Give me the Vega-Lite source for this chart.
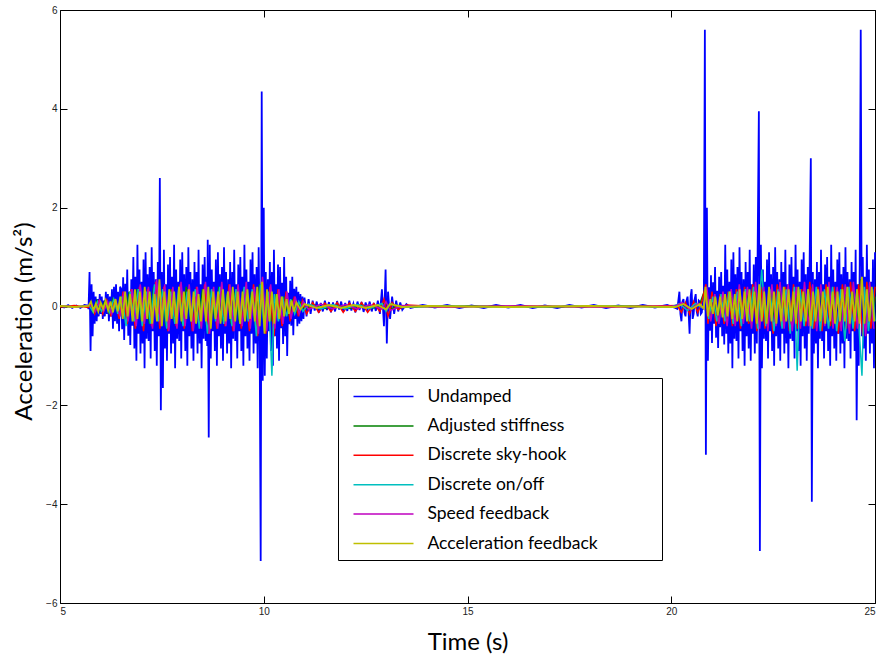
{
"$schema": "https://vega.github.io/schema/vega-lite/v6.json",
"width": 815, "height": 593,
"autosize": "none",
"padding": {"left": 60, "top": 10, "right": 2, "bottom": 54},
"background": "white",
"config": {
 "view": {"stroke": null},
 "axis": {"domainColor": "black", "tickColor": "black", "labelColor": "#222", "labelFont": "Liberation Sans", "labelFontSize": 10, "grid": false, "tickSize": -7, "domainWidth": 1, "tickWidth": 1, "titleFont": "Lato", "titleFontSize": 24, "titleFontWeight": "normal", "titleColor": "black"}
},
"datasets": {
"U": [
{"t":5.0,"a":0.02},{"t":5.1,"a":-0.02},{"t":5.2,"a":0.03},{"t":5.3,"a":-0.03},{"t":5.4,"a":0.02},{"t":5.5,"a":-0.03},{"t":5.6,"a":0.03},{"t":5.675,"a":0.02},
{"t":5.7,"a":-0.05},{"t":5.725,"a":0.7},{"t":5.75,"a":-0.9},{"t":5.775,"a":0.45},{"t":5.8,"a":-0.6},{"t":5.825,"a":0.3},{"t":5.85,"a":-0.35},{"t":5.875,"a":0.2},{"t":5.9,"a":-0.3},{"t":5.925,"a":0.15},{"t":5.95,"a":-0.2},{"t":5.975,"a":0.25},{"t":6.0,"a":-0.15},{"t":6.025,"a":0.2},{"t":6.05,"a":-0.25},{"t":6.075,"a":0.12},{"t":6.1,"a":-0.2},{"t":6.125,"a":0.3},{"t":6.15,"a":-0.15},{"t":6.175,"a":0.25},{"t":6.2,"a":-0.3},{"t":6.225,"a":0.2},{"t":6.25,"a":-0.2},{"t":6.275,"a":0.35},{"t":6.3,"a":-0.45},{"t":6.325,"a":0.4},{"t":6.35,"a":-0.3},{"t":6.375,"a":0.45},{"t":6.4,"a":-0.35},{"t":6.425,"a":0.3},{"t":6.45,"a":-0.5},{"t":6.475,"a":0.4},
{"t":6.5,"a":0.36},{"t":6.525,"a":-0.46},{"t":6.55,"a":0.59},{"t":6.575,"a":-0.68},{"t":6.6,"a":0.46},{"t":6.625,"a":-0.33},{"t":6.65,"a":0.75},{"t":6.675,"a":-0.59},{"t":6.7,"a":0.29},{"t":6.725,"a":-0.78},{"t":6.75,"a":0.55},{"t":6.775,"a":-0.39},{"t":6.8,"a":1.0},{"t":6.825,"a":-0.85},{"t":6.85,"a":0.6},{"t":6.875,"a":-1.1},{"t":6.9,"a":1.25},{"t":6.925,"a":-0.55},{"t":6.95,"a":0.75},{"t":6.975,"a":-0.95},{"t":7.0,"a":0.5},{"t":7.025,"a":-0.75},{"t":7.05,"a":0.95},{"t":7.075,"a":-1.25},{"t":7.1,"a":1.1},{"t":7.125,"a":-0.65},{"t":7.15,"a":0.65},{"t":7.175,"a":-0.7},{"t":7.2,"a":0.8},{"t":7.225,"a":-1.05},{"t":7.25,"a":1.2},{"t":7.275,"a":-0.5},{"t":7.3,"a":0.7},{"t":7.325,"a":-0.9},{"t":7.35,"a":0.55},{"t":7.375,"a":-1.2},{"t":7.4,"a":0.9},{"t":7.425,"a":-0.6},{"t":7.45,"a":2.6},{"t":7.475,"a":-2.1},{"t":7.5,"a":0.7},{"t":7.525,"a":-1.65},{"t":7.55,"a":1.15},{"t":7.575,"a":-0.85},{"t":7.6,"a":0.45},{"t":7.625,"a":-1.1},{"t":7.65,"a":0.85},{"t":7.675,"a":-0.55},{"t":7.7,"a":1.0},{"t":7.725,"a":-0.95},{"t":7.75,"a":0.6},{"t":7.775,"a":-0.75},{"t":7.8,"a":1.25},{"t":7.825,"a":-1.25},{"t":7.85,"a":0.75},{"t":7.875,"a":-0.65},{"t":7.9,"a":0.5},{"t":7.925,"a":-0.7},{"t":7.95,"a":0.95},{"t":7.975,"a":-1.05},{"t":8.0,"a":1.1},{"t":8.025,"a":-0.5},{"t":8.05,"a":0.65},{"t":8.075,"a":-0.9},{"t":8.1,"a":0.8},{"t":8.125,"a":-1.2},{"t":8.15,"a":1.2},{"t":8.175,"a":-0.6},{"t":8.2,"a":0.7},{"t":8.225,"a":-0.85},{"t":8.25,"a":0.55},{"t":8.275,"a":-1.1},{"t":8.3,"a":0.9},{"t":8.325,"a":-0.55},{"t":8.35,"a":0.7},{"t":8.375,"a":-0.95},{"t":8.4,"a":1.15},{"t":8.425,"a":-0.75},{"t":8.45,"a":0.45},{"t":8.475,"a":-1.25},{"t":8.5,"a":0.85},{"t":8.525,"a":-0.65},{"t":8.55,"a":1.0},{"t":8.575,"a":-0.7},{"t":8.6,"a":0.6},{"t":8.6125,"a":-0.8},{"t":8.625,"a":1.35},{"t":8.65,"a":-2.65},{"t":8.675,"a":1.25},{"t":8.7,"a":-1.05},{"t":8.725,"a":0.75},{"t":8.75,"a":-0.5},{"t":8.775,"a":0.5},{"t":8.8,"a":-0.9},{"t":8.825,"a":0.95},{"t":8.85,"a":-1.2},{"t":8.875,"a":1.1},{"t":8.9,"a":-0.6},{"t":8.925,"a":0.65},{"t":8.95,"a":-0.85},{"t":8.975,"a":0.8},{"t":9.0,"a":-1.1},{"t":9.025,"a":1.2},{"t":9.05,"a":-0.55},{"t":9.075,"a":0.7},{"t":9.1,"a":-0.95},{"t":9.125,"a":0.55},{"t":9.15,"a":-0.75},{"t":9.175,"a":0.9},{"t":9.2,"a":-1.25},{"t":9.225,"a":0.7},{"t":9.25,"a":-0.65},{"t":9.275,"a":1.15},{"t":9.3,"a":-0.7},{"t":9.325,"a":0.45},{"t":9.35,"a":-1.05},{"t":9.375,"a":0.85},{"t":9.4,"a":-0.5},{"t":9.425,"a":1.0},{"t":9.45,"a":-0.9},{"t":9.475,"a":0.6},{"t":9.5,"a":-1.2},{"t":9.525,"a":1.25},{"t":9.55,"a":-0.6},{"t":9.575,"a":0.75},{"t":9.6,"a":-0.85},{"t":9.625,"a":0.5},{"t":9.65,"a":-1.1},{"t":9.675,"a":0.95},{"t":9.7,"a":-0.55},{"t":9.725,"a":1.1},{"t":9.75,"a":-0.95},{"t":9.775,"a":0.65},{"t":9.8,"a":-0.75},{"t":9.825,"a":0.8},{"t":9.85,"a":-1.25},{"t":9.875,"a":1.2},{"t":9.9,"a":-0.65},{"t":9.925,"a":-5.15},{"t":9.95,"a":4.35},{"t":9.975,"a":-1.5},{"t":10.0,"a":2.0},{"t":10.025,"a":-1.4},{"t":10.05,"a":0.7},{"t":10.075,"a":-1.05},{"t":10.1,"a":0.55},{"t":10.125,"a":-0.5},{"t":10.15,"a":0.9},{"t":10.175,"a":-0.9},{"t":10.2,"a":0.7},{"t":10.225,"a":-1.2},{"t":10.25,"a":1.15},{"t":10.275,"a":-0.6},{"t":10.3,"a":0.45},{"t":10.325,"a":-0.85},{"t":10.35,"a":0.85},{"t":10.375,"a":-1.1},{"t":10.4,"a":0.8},{"t":10.425,"a":-0.44},{"t":10.45,"a":0.48},{"t":10.475,"a":-0.76},{"t":10.5,"a":1.0},{"t":10.525,"a":-0.6},{"t":10.55,"a":0.6},{"t":10.575,"a":-1.0},{"t":10.6,"a":0.28},{"t":10.625,"a":-0.36},{"t":10.65,"a":0.52},{"t":10.675,"a":-0.39},{"t":10.7,"a":0.6},{"t":10.725,"a":-0.58},{"t":10.75,"a":0.36},{"t":10.775,"a":-0.25},{"t":10.8,"a":0.4},{"t":10.825,"a":-0.4},{"t":10.85,"a":0.3},{"t":10.875,"a":-0.35},{"t":10.9,"a":0.25},{"t":10.925,"a":-0.3},{"t":10.95,"a":0.2},{"t":10.975,"a":-0.25},{"t":11.0,"a":0.18},{"t":11.05,"a":-0.2},{"t":11.1,"a":0.15},{"t":11.15,"a":-0.15},
{"t":11.2,"a":0.12},{"t":11.25,"a":-0.08},{"t":11.3,"a":0.1},{"t":11.35,"a":-0.13},{"t":11.4,"a":0.07},{"t":11.45,"a":-0.1},{"t":11.5,"a":0.12},{"t":11.55,"a":-0.07},{"t":11.6,"a":0.09},{"t":11.65,"a":-0.12},{"t":11.7,"a":0.08},{"t":11.75,"a":-0.1},{"t":11.8,"a":0.11},{"t":11.85,"a":-0.06},{"t":11.9,"a":0.1},{"t":11.95,"a":-0.11},{"t":12.0,"a":0.07},{"t":12.05,"a":-0.09},{"t":12.1,"a":0.12},{"t":12.15,"a":-0.08},{"t":12.2,"a":0.06},{"t":12.25,"a":-0.12},{"t":12.3,"a":0.1},{"t":12.35,"a":-0.07},{"t":12.4,"a":0.09},{"t":12.45,"a":-0.11},{"t":12.5,"a":0.08},{"t":12.55,"a":-0.06},{"t":12.6,"a":0.1},{"t":12.65,"a":-0.1},{"t":12.7,"a":0.07},{"t":12.75,"a":-0.09},{"t":12.8,"a":0.12},{"t":12.85,"a":-0.15},{"t":12.9,"a":0.35},{"t":12.95,"a":-0.4},{"t":12.99,"a":0.75},{"t":13.02,"a":-0.75},{"t":13.05,"a":0.3},{"t":13.1,"a":-0.25},{"t":13.15,"a":0.2},{"t":13.2,"a":-0.15},{"t":13.25,"a":0.12},{"t":13.3,"a":-0.1},{"t":13.35,"a":0.08},{"t":13.4,"a":-0.07},{"t":13.5,"a":0.05},
{"t":13.6,"a":-0.03},{"t":13.9,"a":0.03},{"t":14.2,"a":-0.02},{"t":14.5,"a":0.03},{"t":14.8,"a":-0.03},{"t":15.1,"a":0.02},{"t":15.4,"a":-0.03},{"t":15.7,"a":0.03},{"t":16.0,"a":-0.02},{"t":16.3,"a":0.03},{"t":16.6,"a":-0.03},{"t":16.9,"a":0.02},{"t":17.2,"a":-0.03},{"t":17.5,"a":0.03},{"t":17.8,"a":-0.02},{"t":18.1,"a":0.03},{"t":18.4,"a":-0.03},{"t":18.7,"a":0.02},{"t":19.0,"a":-0.03},{"t":19.3,"a":0.03},{"t":19.6,"a":-0.02},{"t":19.9,"a":0.03},{"t":20.1,"a":-0.03},
{"t":20.15,"a":-0.05},{"t":20.2,"a":0.3},{"t":20.225,"a":-0.15},{"t":20.25,"a":-0.3},{"t":20.275,"a":0.1},{"t":20.3,"a":0.15},{"t":20.325,"a":-0.12},{"t":20.35,"a":-0.2},{"t":20.375,"a":0.12},{"t":20.4,"a":0.2},{"t":20.425,"a":-0.1},{"t":20.45,"a":-0.55},{"t":20.475,"a":0.2},{"t":20.5,"a":0.35},{"t":20.525,"a":-0.25},{"t":20.55,"a":-0.15},{"t":20.575,"a":0.15},{"t":20.6,"a":0.25},{"t":20.625,"a":-0.1},{"t":20.65,"a":-0.2},{"t":20.675,"a":0.12},{"t":20.7,"a":0.1},{"t":20.725,"a":-0.15},{"t":20.75,"a":-0.12},{"t":20.775,"a":0.1},{"t":20.8,"a":0.15},
{"t":20.825,"a":5.6},{"t":20.85,"a":-3.0},{"t":20.875,"a":2.0},{"t":20.9,"a":-1.1},{"t":20.925,"a":0.39},{"t":20.95,"a":-0.49},{"t":20.975,"a":0.63},{"t":21.0,"a":-0.74},{"t":21.025,"a":0.49},{"t":21.05,"a":-0.35},{"t":21.075,"a":0.8},{"t":21.1,"a":-0.63},{"t":21.125,"a":0.32},{"t":21.15,"a":-0.84},{"t":21.175,"a":0.6},{"t":21.2,"a":-0.42},{"t":21.225,"a":0.7},{"t":21.25,"a":-0.6},{"t":21.275,"a":0.42},{"t":21.3,"a":-0.77},{"t":21.325,"a":1.25},{"t":21.35,"a":-0.55},{"t":21.375,"a":0.75},{"t":21.4,"a":-0.95},{"t":21.425,"a":0.5},{"t":21.45,"a":-0.75},{"t":21.475,"a":0.95},{"t":21.5,"a":-1.25},{"t":21.525,"a":1.1},{"t":21.55,"a":-0.65},{"t":21.575,"a":0.65},{"t":21.6,"a":-0.7},{"t":21.625,"a":0.8},{"t":21.65,"a":-1.05},{"t":21.675,"a":1.2},{"t":21.7,"a":-0.5},{"t":21.725,"a":0.7},{"t":21.75,"a":-0.9},{"t":21.775,"a":0.55},{"t":21.8,"a":-1.2},{"t":21.825,"a":0.9},{"t":21.85,"a":-0.6},{"t":21.875,"a":0.7},{"t":21.9,"a":-0.85},{"t":21.925,"a":1.15},{"t":21.95,"a":-1.1},{"t":21.975,"a":0.45},{"t":22.0,"a":-0.55},{"t":22.025,"a":0.85},{"t":22.05,"a":-0.95},{"t":22.075,"a":1.0},{"t":22.1,"a":-0.75},{"t":22.125,"a":1.6},{"t":22.15,"a":3.95},{"t":22.175,"a":-4.95},{"t":22.2,"a":1.25},{"t":22.225,"a":-1.25},{"t":22.25,"a":0.75},{"t":22.275,"a":-0.65},{"t":22.3,"a":0.5},{"t":22.325,"a":-0.7},{"t":22.35,"a":0.95},{"t":22.375,"a":-1.05},{"t":22.4,"a":1.1},{"t":22.425,"a":-0.5},{"t":22.45,"a":0.65},{"t":22.475,"a":-0.9},{"t":22.5,"a":0.8},{"t":22.525,"a":-1.2},{"t":22.55,"a":1.2},{"t":22.575,"a":-0.6},{"t":22.6,"a":0.7},{"t":22.625,"a":-0.85},{"t":22.65,"a":0.55},{"t":22.675,"a":-1.1},{"t":22.7,"a":0.9},{"t":22.725,"a":-0.55},{"t":22.75,"a":0.7},{"t":22.775,"a":-0.95},{"t":22.8,"a":1.15},{"t":22.825,"a":-0.75},{"t":22.85,"a":0.45},{"t":22.875,"a":-1.25},{"t":22.9,"a":0.85},{"t":22.925,"a":-0.65},{"t":22.95,"a":1.0},{"t":22.975,"a":-0.7},{"t":23.0,"a":0.6},{"t":23.025,"a":-1.05},{"t":23.05,"a":1.25},{"t":23.075,"a":-0.5},{"t":23.1,"a":0.75},{"t":23.125,"a":-0.9},{"t":23.15,"a":0.5},{"t":23.175,"a":-1.2},{"t":23.2,"a":0.95},{"t":23.225,"a":-0.6},{"t":23.25,"a":1.1},{"t":23.275,"a":-0.85},{"t":23.3,"a":0.65},{"t":23.325,"a":-1.1},{"t":23.35,"a":0.8},{"t":23.375,"a":-0.55},{"t":23.4,"a":1.2},{"t":23.425,"a":3.0},{"t":23.45,"a":-3.95},{"t":23.475,"a":0.7},{"t":23.5,"a":-0.95},{"t":23.525,"a":0.55},{"t":23.55,"a":-0.75},{"t":23.575,"a":0.9},{"t":23.6,"a":-1.25},{"t":23.625,"a":0.7},{"t":23.65,"a":-0.65},{"t":23.675,"a":1.15},{"t":23.7,"a":-0.7},{"t":23.725,"a":0.45},{"t":23.75,"a":-1.05},{"t":23.775,"a":0.85},{"t":23.8,"a":-0.5},{"t":23.825,"a":1.0},{"t":23.85,"a":-0.9},{"t":23.875,"a":0.6},{"t":23.9,"a":-1.2},{"t":23.925,"a":1.25},{"t":23.95,"a":-0.6},{"t":23.975,"a":0.75},{"t":24.0,"a":-0.85},{"t":24.025,"a":0.5},{"t":24.05,"a":-1.1},{"t":24.075,"a":0.95},{"t":24.1,"a":-0.55},{"t":24.125,"a":1.1},{"t":24.15,"a":-0.95},{"t":24.175,"a":0.65},{"t":24.2,"a":-0.75},{"t":24.225,"a":0.8},{"t":24.25,"a":-1.25},{"t":24.275,"a":1.2},{"t":24.3,"a":-0.65},{"t":24.325,"a":0.7},{"t":24.35,"a":-0.7},{"t":24.375,"a":0.55},{"t":24.4,"a":-1.05},{"t":24.425,"a":0.9},{"t":24.45,"a":-0.5},{"t":24.475,"a":0.7},{"t":24.5,"a":-0.9},{"t":24.525,"a":1.15},{"t":24.55,"a":-2.3},{"t":24.575,"a":0.45},{"t":24.6,"a":-1.2},{"t":24.625,"a":0.85},{"t":24.65,"a":5.6},{"t":24.675,"a":-0.6},{"t":24.7,"a":1.0},{"t":24.725,"a":-0.85},{"t":24.75,"a":0.6},{"t":24.775,"a":-1.1},{"t":24.8,"a":1.25},{"t":24.825,"a":-0.55},{"t":24.85,"a":0.75},{"t":24.875,"a":-0.95},{"t":24.9,"a":0.5},{"t":24.925,"a":-0.75},{"t":24.95,"a":0.95},{"t":24.975,"a":-1.25},{"t":25.0,"a":1.1}
],
"G": [
{"t":5.0,"a":0.01},{"t":5.4,"a":-0.01},{"t":5.75,"a":0.02},{"t":5.8,"a":-0.1},{"t":5.9,"a":0.12},{"t":6.0,"a":-0.08},{"t":6.1,"a":0.1},{"t":6.2,"a":-0.12},{"t":6.3,"a":0.15},{"t":6.4,"a":-0.1},{"t":6.5,"a":0.2},{"t":6.6,"a":-0.25},{"t":6.7,"a":0.3},{"t":6.8,"a":-0.2},{"t":6.9,"a":0.35},{"t":7.0,"a":-0.3},{"t":7.1,"a":0.25},{"t":7.2,"a":-0.35},{"t":7.3,"a":0.4},{"t":7.4,"a":-0.25},{"t":7.5,"a":0.3},{"t":7.6,"a":-0.4},{"t":7.7,"a":0.35},{"t":7.8,"a":-0.3},{"t":7.9,"a":0.25},{"t":8.0,"a":-0.35},{"t":8.1,"a":0.4},{"t":8.2,"a":-0.25},{"t":8.3,"a":0.3},{"t":8.4,"a":-0.3},{"t":8.5,"a":0.35},{"t":8.6,"a":-0.4},{"t":8.7,"a":0.3},{"t":8.8,"a":-0.25},{"t":8.9,"a":0.4},{"t":9.0,"a":-0.3},{"t":9.1,"a":0.25},{"t":9.2,"a":-0.35},{"t":9.3,"a":0.3},{"t":9.4,"a":-0.3},{"t":9.5,"a":0.35},{"t":9.6,"a":-0.25},{"t":9.7,"a":0.3},{"t":9.8,"a":-0.4},{"t":9.9,"a":0.45},{"t":10.0,"a":-0.35},{"t":10.1,"a":0.3},{"t":10.2,"a":-0.3},{"t":10.3,"a":0.25},{"t":10.4,"a":-0.2},{"t":10.5,"a":0.2},{"t":10.6,"a":-0.15},{"t":10.7,"a":0.12},{"t":10.8,"a":-0.1},{"t":10.9,"a":0.08},{"t":11.0,"a":-0.06},{"t":11.2,"a":0.04},{"t":11.5,"a":-0.04},{"t":11.8,"a":0.03},{"t":12.1,"a":-0.04},{"t":12.4,"a":0.03},{"t":12.7,"a":-0.03},{"t":13.0,"a":0.08},{"t":13.1,"a":-0.06},{"t":13.3,"a":0.02},{"t":13.6,"a":-0.01},{"t":15.0,"a":0.01},{"t":17.0,"a":-0.01},{"t":19.0,"a":0.01},{"t":20.1,"a":-0.01},{"t":20.3,"a":0.05},{"t":20.5,"a":-0.06},{"t":20.7,"a":0.05},{"t":20.85,"a":0.4},{"t":20.95,"a":-0.2},{"t":21.05,"a":0.15},{"t":21.15,"a":-0.2},{"t":21.25,"a":0.2},{"t":21.35,"a":-0.25},{"t":21.45,"a":0.3},{"t":21.55,"a":-0.25},{"t":21.65,"a":0.35},{"t":21.75,"a":-0.3},{"t":21.85,"a":0.3},{"t":21.95,"a":-0.35},{"t":22.05,"a":0.4},{"t":22.15,"a":-0.3},{"t":22.25,"a":0.35},{"t":22.35,"a":-0.3},{"t":22.45,"a":0.3},{"t":22.55,"a":-0.35},{"t":22.65,"a":0.4},{"t":22.75,"a":-0.3},{"t":22.85,"a":0.35},{"t":22.95,"a":-0.4},{"t":23.05,"a":0.3},{"t":23.15,"a":-0.3},{"t":23.25,"a":0.35},{"t":23.35,"a":-0.25},{"t":23.45,"a":0.4},{"t":23.55,"a":-0.35},{"t":23.65,"a":0.3},{"t":23.75,"a":-0.3},{"t":23.85,"a":0.35},{"t":23.95,"a":-0.4},{"t":24.05,"a":0.3},{"t":24.15,"a":-0.35},{"t":24.25,"a":0.4},{"t":24.35,"a":-0.3},{"t":24.45,"a":0.35},{"t":24.55,"a":-0.3},{"t":24.65,"a":0.55},{"t":24.75,"a":-0.35},{"t":24.85,"a":0.4},{"t":24.95,"a":-0.3},{"t":25.0,"a":0.2}
],
"R": [
{"t":5.0,"a":-0.01},{"t":5.35,"a":0.02},{"t":5.7,"a":-0.02},{"t":5.75,"a":0.05},{"t":5.85,"a":-0.15},{"t":5.95,"a":0.1},{"t":6.05,"a":-0.15},{"t":6.15,"a":0.12},{"t":6.25,"a":-0.2},{"t":6.35,"a":0.15},{"t":6.45,"a":-0.25},{"t":6.55,"a":0.3},{"t":6.65,"a":-0.35},{"t":6.75,"a":0.35},{"t":6.85,"a":-0.45},{"t":6.95,"a":0.4},{"t":7.05,"a":-0.5},{"t":7.15,"a":0.35},{"t":7.25,"a":-0.4},{"t":7.35,"a":0.5},{"t":7.45,"a":-0.45},{"t":7.55,"a":0.4},{"t":7.65,"a":-0.5},{"t":7.75,"a":0.35},{"t":7.85,"a":-0.4},{"t":7.95,"a":0.45},{"t":8.05,"a":-0.45},{"t":8.15,"a":0.35},{"t":8.25,"a":-0.5},{"t":8.35,"a":0.4},{"t":8.45,"a":-0.4},{"t":8.55,"a":0.45},{"t":8.65,"a":-0.55},{"t":8.75,"a":0.35},{"t":8.85,"a":-0.45},{"t":8.95,"a":0.4},{"t":9.05,"a":-0.4},{"t":9.15,"a":0.45},{"t":9.25,"a":-0.5},{"t":9.35,"a":0.35},{"t":9.45,"a":-0.45},{"t":9.55,"a":0.4},{"t":9.65,"a":-0.5},{"t":9.75,"a":0.45},{"t":9.85,"a":-0.6},{"t":9.95,"a":0.5},{"t":10.05,"a":-0.55},{"t":10.15,"a":0.4},{"t":10.25,"a":-0.6},{"t":10.35,"a":0.35},{"t":10.45,"a":-0.4},{"t":10.55,"a":0.3},{"t":10.65,"a":-0.3},{"t":10.75,"a":0.2},{"t":10.85,"a":-0.2},{"t":10.95,"a":0.12},{"t":11.05,"a":-0.15},{"t":11.2,"a":0.08},{"t":11.35,"a":-0.12},{"t":11.5,"a":0.07},{"t":11.65,"a":-0.1},{"t":11.8,"a":0.08},{"t":11.95,"a":-0.12},{"t":12.1,"a":0.07},{"t":12.25,"a":-0.1},{"t":12.4,"a":0.08},{"t":12.55,"a":-0.12},{"t":12.7,"a":0.06},{"t":12.85,"a":-0.1},{"t":12.95,"a":0.15},{"t":13.05,"a":-0.2},{"t":13.15,"a":0.08},{"t":13.3,"a":-0.06},{"t":13.5,"a":0.03},{"t":14.5,"a":-0.01},{"t":16.5,"a":0.01},{"t":18.5,"a":-0.01},{"t":20.15,"a":0.02},{"t":20.25,"a":-0.12},{"t":20.35,"a":0.08},{"t":20.45,"a":-0.15},{"t":20.55,"a":0.1},{"t":20.65,"a":-0.12},{"t":20.75,"a":0.1},{"t":20.85,"a":0.45},{"t":20.9,"a":-0.35},{"t":21.0,"a":0.3},{"t":21.1,"a":-0.4},{"t":21.2,"a":0.25},{"t":21.3,"a":-0.35},{"t":21.4,"a":0.3},{"t":21.5,"a":-0.4},{"t":21.6,"a":0.35},{"t":21.7,"a":-0.45},{"t":21.8,"a":0.4},{"t":21.9,"a":-0.35},{"t":22.0,"a":0.45},{"t":22.1,"a":-0.5},{"t":22.2,"a":0.4},{"t":22.3,"a":-0.45},{"t":22.4,"a":0.35},{"t":22.5,"a":-0.55},{"t":22.6,"a":0.45},{"t":22.7,"a":-0.4},{"t":22.8,"a":0.4},{"t":22.9,"a":-0.5},{"t":23.0,"a":0.45},{"t":23.1,"a":-0.45},{"t":23.2,"a":0.35},{"t":23.3,"a":-0.4},{"t":23.4,"a":0.5},{"t":23.5,"a":-0.45},{"t":23.6,"a":0.4},{"t":23.7,"a":-0.5},{"t":23.8,"a":0.45},{"t":23.9,"a":-0.4},{"t":24.0,"a":0.4},{"t":24.1,"a":-0.55},{"t":24.2,"a":0.45},{"t":24.3,"a":-0.45},{"t":24.4,"a":0.5},{"t":24.5,"a":-0.5},{"t":24.6,"a":0.45},{"t":24.7,"a":-0.6},{"t":24.8,"a":0.5},{"t":24.9,"a":-0.45},{"t":25.0,"a":0.4}
],
"C": [
{"t":5.0,"a":0.01},{"t":5.4,"a":-0.01},{"t":5.72,"a":0.02},{"t":5.82,"a":-0.12},{"t":5.92,"a":0.1},{"t":6.02,"a":-0.1},{"t":6.12,"a":0.08},{"t":6.22,"a":-0.12},{"t":6.32,"a":0.15},{"t":6.42,"a":-0.15},{"t":6.52,"a":0.2},{"t":6.62,"a":-0.4},{"t":6.72,"a":0.3},{"t":6.82,"a":-0.3},{"t":6.92,"a":0.35},{"t":7.02,"a":-0.4},{"t":7.12,"a":0.3},{"t":7.22,"a":-0.35},{"t":7.32,"a":0.45},{"t":7.42,"a":-0.3},{"t":7.52,"a":0.35},{"t":7.62,"a":-0.45},{"t":7.72,"a":0.3},{"t":7.82,"a":-0.35},{"t":7.92,"a":0.4},{"t":8.02,"a":-0.4},{"t":8.12,"a":0.3},{"t":8.22,"a":-0.3},{"t":8.32,"a":0.35},{"t":8.42,"a":-0.45},{"t":8.52,"a":0.3},{"t":8.62,"a":-0.55},{"t":8.72,"a":0.35},{"t":8.82,"a":-0.3},{"t":8.92,"a":0.4},{"t":9.02,"a":-0.35},{"t":9.12,"a":0.3},{"t":9.22,"a":-0.4},{"t":9.32,"a":0.35},{"t":9.42,"a":-0.35},{"t":9.52,"a":0.4},{"t":9.62,"a":-0.3},{"t":9.72,"a":0.35},{"t":9.82,"a":-0.6},{"t":9.92,"a":0.45},{"t":10.02,"a":-0.5},{"t":10.12,"a":0.3},{"t":10.2,"a":-1.4},{"t":10.26,"a":0.25},{"t":10.36,"a":-0.3},{"t":10.46,"a":0.2},{"t":10.56,"a":-0.2},{"t":10.66,"a":0.15},{"t":10.76,"a":-0.15},{"t":10.86,"a":0.1},{"t":10.96,"a":-0.1},{"t":11.1,"a":0.05},{"t":11.4,"a":-0.05},{"t":11.7,"a":0.04},{"t":12.0,"a":-0.05},{"t":12.3,"a":0.04},{"t":12.6,"a":-0.04},{"t":12.9,"a":0.06},{"t":13.0,"a":-0.1},{"t":13.1,"a":0.06},{"t":13.4,"a":-0.02},{"t":14.0,"a":0.01},{"t":16.0,"a":-0.01},{"t":18.0,"a":0.01},{"t":20.0,"a":-0.01},{"t":20.2,"a":0.06},{"t":20.4,"a":-0.08},{"t":20.6,"a":0.06},{"t":20.8,"a":-0.05},{"t":20.84,"a":0.35},{"t":20.92,"a":-0.25},{"t":21.02,"a":0.2},{"t":21.12,"a":-0.3},{"t":21.22,"a":0.25},{"t":21.32,"a":-0.3},{"t":21.42,"a":0.3},{"t":21.52,"a":-0.35},{"t":21.62,"a":0.3},{"t":21.72,"a":-0.4},{"t":21.82,"a":0.35},{"t":21.92,"a":-0.3},{"t":22.02,"a":0.4},{"t":22.12,"a":-0.45},{"t":22.22,"a":0.75},{"t":22.32,"a":-0.4},{"t":22.42,"a":0.35},{"t":22.52,"a":-0.5},{"t":22.62,"a":0.35},{"t":22.72,"a":-0.45},{"t":22.82,"a":0.35},{"t":22.92,"a":-0.55},{"t":23.02,"a":0.4},{"t":23.09,"a":-1.3},{"t":23.16,"a":0.35},{"t":23.26,"a":-0.4},{"t":23.36,"a":0.35},{"t":23.46,"a":-0.45},{"t":23.56,"a":0.4},{"t":23.66,"a":-0.5},{"t":23.76,"a":0.35},{"t":23.86,"a":-0.45},{"t":23.96,"a":0.4},{"t":24.06,"a":-0.5},{"t":24.16,"a":0.35},{"t":24.26,"a":-0.7},{"t":24.36,"a":0.4},{"t":24.46,"a":-0.45},{"t":24.56,"a":0.35},{"t":24.62,"a":-0.6},{"t":24.68,"a":-1.4},{"t":24.74,"a":0.4},{"t":24.84,"a":-0.5},{"t":24.94,"a":0.35},{"t":25.0,"a":-0.3}
],
"M": [
{"t":5.0,"a":0.01},{"t":5.4,"a":-0.01},{"t":5.77,"a":0.02},{"t":5.87,"a":-0.1},{"t":5.97,"a":0.12},{"t":6.07,"a":-0.1},{"t":6.17,"a":0.1},{"t":6.27,"a":-0.15},{"t":6.37,"a":0.12},{"t":6.47,"a":-0.2},{"t":6.57,"a":0.3},{"t":6.67,"a":-0.3},{"t":6.77,"a":0.35},{"t":6.87,"a":-0.4},{"t":6.97,"a":0.45},{"t":7.07,"a":-0.35},{"t":7.17,"a":0.4},{"t":7.27,"a":-0.45},{"t":7.37,"a":0.55},{"t":7.47,"a":-0.4},{"t":7.57,"a":0.45},{"t":7.67,"a":-0.5},{"t":7.77,"a":0.4},{"t":7.87,"a":-0.45},{"t":7.97,"a":0.5},{"t":8.07,"a":-0.4},{"t":8.17,"a":0.45},{"t":8.27,"a":-0.5},{"t":8.37,"a":0.4},{"t":8.47,"a":-0.45},{"t":8.57,"a":0.5},{"t":8.67,"a":-0.55},{"t":8.77,"a":0.4},{"t":8.87,"a":-0.45},{"t":8.97,"a":0.5},{"t":9.07,"a":-0.4},{"t":9.17,"a":0.45},{"t":9.27,"a":-0.5},{"t":9.37,"a":0.45},{"t":9.47,"a":-0.4},{"t":9.57,"a":0.5},{"t":9.67,"a":-0.45},{"t":9.77,"a":0.4},{"t":9.87,"a":-0.55},{"t":9.97,"a":0.6},{"t":10.07,"a":-0.5},{"t":10.17,"a":0.45},{"t":10.27,"a":-0.45},{"t":10.37,"a":0.35},{"t":10.47,"a":-0.35},{"t":10.57,"a":0.3},{"t":10.67,"a":-0.25},{"t":10.77,"a":0.2},{"t":10.87,"a":-0.15},{"t":10.97,"a":0.1},{"t":11.1,"a":-0.06},{"t":11.4,"a":0.05},{"t":11.7,"a":-0.05},{"t":12.0,"a":0.04},{"t":12.3,"a":-0.05},{"t":12.6,"a":0.04},{"t":12.9,"a":-0.05},{"t":13.0,"a":0.1},{"t":13.1,"a":-0.08},{"t":13.4,"a":0.02},{"t":14.2,"a":-0.01},{"t":16.2,"a":0.01},{"t":18.2,"a":-0.01},{"t":20.1,"a":0.01},{"t":20.27,"a":0.08},{"t":20.47,"a":-0.07},{"t":20.67,"a":0.06},{"t":20.8,"a":-0.05},{"t":20.87,"a":0.4},{"t":20.97,"a":-0.3},{"t":21.07,"a":0.25},{"t":21.17,"a":-0.35},{"t":21.27,"a":0.3},{"t":21.37,"a":-0.4},{"t":21.47,"a":0.35},{"t":21.57,"a":-0.4},{"t":21.67,"a":0.45},{"t":21.77,"a":-0.35},{"t":21.87,"a":0.4},{"t":21.97,"a":-0.45},{"t":22.07,"a":0.5},{"t":22.17,"a":-0.45},{"t":22.27,"a":0.4},{"t":22.37,"a":-0.5},{"t":22.47,"a":0.45},{"t":22.57,"a":-0.4},{"t":22.67,"a":0.5},{"t":22.77,"a":-0.45},{"t":22.87,"a":0.45},{"t":22.97,"a":-0.5},{"t":23.07,"a":0.4},{"t":23.17,"a":-0.45},{"t":23.27,"a":0.5},{"t":23.37,"a":-0.4},{"t":23.47,"a":0.45},{"t":23.57,"a":-0.5},{"t":23.67,"a":0.45},{"t":23.77,"a":-0.4},{"t":23.87,"a":0.5},{"t":23.97,"a":-0.45},{"t":24.07,"a":0.4},{"t":24.17,"a":-0.5},{"t":24.27,"a":0.45},{"t":24.37,"a":-0.55},{"t":24.47,"a":0.5},{"t":24.57,"a":-0.45},{"t":24.67,"a":0.55},{"t":24.77,"a":-0.6},{"t":24.87,"a":0.5},{"t":24.97,"a":-0.45}
],
"Y": [
{"t":5.0,"a":0.01},{"t":5.35,"a":-0.01},{"t":5.7,"a":0.01},{"t":5.76,"a":0.1},{"t":5.82,"a":-0.08},{"t":5.88,"a":0.06},{"t":5.94,"a":-0.1},{"t":6.0,"a":0.08},{"t":6.06,"a":-0.05},{"t":6.12,"a":0.12},{"t":6.18,"a":-0.08},{"t":6.24,"a":0.1},{"t":6.3,"a":-0.12},{"t":6.36,"a":0.15},{"t":6.42,"a":-0.1},{"t":6.48,"a":0.2},{"t":6.54,"a":-0.25},{"t":6.6,"a":0.3},{"t":6.66,"a":-0.2},{"t":6.72,"a":0.25},{"t":6.78,"a":-0.3},{"t":6.84,"a":0.35},{"t":6.9,"a":-0.25},{"t":6.96,"a":0.3},{"t":7.02,"a":-0.3},{"t":7.08,"a":0.4},{"t":7.14,"a":-0.25},{"t":7.2,"a":0.3},{"t":7.26,"a":-0.35},{"t":7.32,"a":0.25},{"t":7.38,"a":-0.3},{"t":7.44,"a":0.55},{"t":7.5,"a":-0.4},{"t":7.56,"a":0.3},{"t":7.62,"a":-0.3},{"t":7.68,"a":0.35},{"t":7.74,"a":-0.25},{"t":7.8,"a":0.3},{"t":7.86,"a":-0.35},{"t":7.92,"a":0.4},{"t":7.98,"a":-0.3},{"t":8.04,"a":0.3},{"t":8.1,"a":-0.25},{"t":8.16,"a":0.35},{"t":8.22,"a":-0.3},{"t":8.28,"a":0.3},{"t":8.34,"a":-0.35},{"t":8.4,"a":0.25},{"t":8.46,"a":-0.3},{"t":8.52,"a":0.35},{"t":8.58,"a":-0.3},{"t":8.64,"a":0.4},{"t":8.7,"a":-0.45},{"t":8.76,"a":0.3},{"t":8.82,"a":-0.25},{"t":8.88,"a":0.3},{"t":8.94,"a":-0.35},{"t":9.0,"a":0.35},{"t":9.06,"a":-0.3},{"t":9.12,"a":0.3},{"t":9.18,"a":-0.25},{"t":9.24,"a":0.4},{"t":9.3,"a":-0.3},{"t":9.36,"a":0.3},{"t":9.42,"a":-0.35},{"t":9.48,"a":0.3},{"t":9.54,"a":-0.3},{"t":9.6,"a":0.35},{"t":9.66,"a":-0.25},{"t":9.72,"a":0.3},{"t":9.78,"a":-0.3},{"t":9.84,"a":0.4},{"t":9.9,"a":-0.4},{"t":9.96,"a":0.5},{"t":10.02,"a":-0.55},{"t":10.08,"a":0.35},{"t":10.14,"a":-0.3},{"t":10.2,"a":0.3},{"t":10.26,"a":-0.35},{"t":10.32,"a":0.25},{"t":10.38,"a":-0.25},{"t":10.44,"a":0.2},{"t":10.5,"a":-0.2},{"t":10.56,"a":0.15},{"t":10.62,"a":-0.15},{"t":10.68,"a":0.12},{"t":10.74,"a":-0.1},{"t":10.8,"a":0.08},{"t":10.9,"a":-0.06},{"t":11.0,"a":0.05},{"t":11.3,"a":-0.03},{"t":11.6,"a":0.03},{"t":11.9,"a":-0.03},{"t":12.2,"a":0.03},{"t":12.5,"a":-0.03},{"t":12.8,"a":0.03},{"t":13.0,"a":-0.06},{"t":13.1,"a":0.05},{"t":13.4,"a":-0.01},{"t":14.0,"a":0.01},{"t":16.0,"a":-0.01},{"t":18.0,"a":0.01},{"t":20.1,"a":-0.01},{"t":20.3,"a":0.05},{"t":20.5,"a":-0.05},{"t":20.7,"a":0.05},{"t":20.8,"a":-0.04},{"t":20.84,"a":0.4},{"t":20.9,"a":-0.2},{"t":20.96,"a":0.15},{"t":21.02,"a":-0.15},{"t":21.08,"a":0.2},{"t":21.14,"a":-0.18},{"t":21.2,"a":0.2},{"t":21.26,"a":-0.22},{"t":21.32,"a":0.25},{"t":21.38,"a":-0.2},{"t":21.44,"a":0.3},{"t":21.5,"a":-0.25},{"t":21.56,"a":0.25},{"t":21.62,"a":-0.3},{"t":21.68,"a":0.35},{"t":21.74,"a":-0.25},{"t":21.8,"a":0.3},{"t":21.86,"a":-0.3},{"t":21.92,"a":0.35},{"t":21.98,"a":-0.3},{"t":22.04,"a":0.3},{"t":22.1,"a":-0.35},{"t":22.16,"a":0.45},{"t":22.22,"a":-0.3},{"t":22.28,"a":0.3},{"t":22.34,"a":-0.35},{"t":22.4,"a":0.4},{"t":22.46,"a":-0.3},{"t":22.52,"a":0.3},{"t":22.58,"a":-0.35},{"t":22.64,"a":0.3},{"t":22.7,"a":-0.3},{"t":22.76,"a":0.4},{"t":22.82,"a":-0.3},{"t":22.88,"a":0.35},{"t":22.94,"a":-0.3},{"t":23.0,"a":0.3},{"t":23.06,"a":-0.35},{"t":23.12,"a":0.4},{"t":23.18,"a":-0.3},{"t":23.24,"a":0.3},{"t":23.3,"a":-0.3},{"t":23.36,"a":0.35},{"t":23.42,"a":-0.4},{"t":23.48,"a":0.3},{"t":23.54,"a":-0.3},{"t":23.6,"a":0.35},{"t":23.66,"a":-0.3},{"t":23.72,"a":0.3},{"t":23.78,"a":-0.35},{"t":23.84,"a":0.4},{"t":23.9,"a":-0.3},{"t":23.96,"a":0.3},{"t":24.02,"a":-0.35},{"t":24.08,"a":0.3},{"t":24.14,"a":-0.3},{"t":24.2,"a":0.35},{"t":24.26,"a":-0.3},{"t":24.32,"a":0.4},{"t":24.38,"a":-0.35},{"t":24.44,"a":0.3},{"t":24.5,"a":-0.3},{"t":24.56,"a":0.35},{"t":24.62,"a":-0.35},{"t":24.68,"a":0.6},{"t":24.74,"a":-0.35},{"t":24.8,"a":0.35},{"t":24.86,"a":-0.3},{"t":24.92,"a":0.4},{"t":24.98,"a":-0.3}
]
},
"layer": [
{"data": {"name": "U"}, "mark": {"type": "line", "strokeWidth": 1.8},
 "encoding": {
  "x": {"field": "t", "type": "quantitative", "scale": {"domain": [5, 25], "nice": false, "zero": false}, "axis": {"orient": "bottom", "values": [5, 10, 15, 20, 25], "title": "Time (s)", "labelPadding": 10, "titlePadding": 14}},
  "y": {"field": "a", "type": "quantitative", "scale": {"domain": [-6, 6], "nice": false}, "axis": {"orient": "left", "values": [-6, -4, -2, 0, 2, 4, 6], "title": "Acceleration (m/s²)", "labelPadding": 10, "titlePadding": 9, "titleY": 311}},
  "color": {"datum": "Undamped", "type": "nominal",
   "scale": {"domain": ["Undamped", "Adjusted stiffness", "Discrete sky-hook", "Discrete on/off", "Speed feedback", "Acceleration feedback"], "range": ["#0000FF", "#008000", "#FF0000", "#00BFBF", "#BF00BF", "#BFBF00"]},
   "legend": {"orient": "none", "legendX": 278, "legendY": 368, "title": null, "symbolType": "M-3,0H3", "symbolSize": 400, "symbolStrokeWidth": 1.5, "symbolOffset": 27, "labelOffset": 33, "labelFont": "Lato", "labelFontSize": 17.5, "labelColor": "black", "rowPadding": 9.4, "padding": 7.5, "strokeColor": "black", "fillColor": "white", "labelLimit": 400, "labelExpr": "datum.label + '\u2003\u2003\u2003\u2005\u2800'"}}
 }},
{"data": {"name": "G"}, "mark": {"type": "line", "strokeWidth": 1.5},
 "encoding": {
  "x": {"field": "t", "type": "quantitative", "axis": {"orient": "top", "values": [5, 10, 15, 20, 25], "labels": false, "title": null}},
  "y": {"field": "a", "type": "quantitative", "axis": {"orient": "right", "values": [-6, -4, -2, 0, 2, 4, 6], "labels": false, "title": null}},
  "color": {"datum": "Adjusted stiffness", "type": "nominal"}
 }},
{"data": {"name": "R"}, "mark": {"type": "line", "strokeWidth": 1.5},
 "encoding": {"x": {"field": "t", "type": "quantitative", "axis": null}, "y": {"field": "a", "type": "quantitative", "axis": null}, "color": {"datum": "Discrete sky-hook", "type": "nominal"}}},
{"data": {"name": "C"}, "mark": {"type": "line", "strokeWidth": 1.5},
 "encoding": {"x": {"field": "t", "type": "quantitative", "axis": null}, "y": {"field": "a", "type": "quantitative", "axis": null}, "color": {"datum": "Discrete on/off", "type": "nominal"}}},
{"data": {"name": "M"}, "mark": {"type": "line", "strokeWidth": 1.5},
 "encoding": {"x": {"field": "t", "type": "quantitative", "axis": null}, "y": {"field": "a", "type": "quantitative", "axis": null}, "color": {"datum": "Speed feedback", "type": "nominal"}}},
{"data": {"name": "Y"}, "mark": {"type": "line", "strokeWidth": 1.8},
 "encoding": {"x": {"field": "t", "type": "quantitative", "axis": null}, "y": {"field": "a", "type": "quantitative", "axis": null}, "color": {"datum": "Acceleration feedback", "type": "nominal"}}}
],
"resolve": {"axis": {"x": "independent", "y": "independent"}}
}
